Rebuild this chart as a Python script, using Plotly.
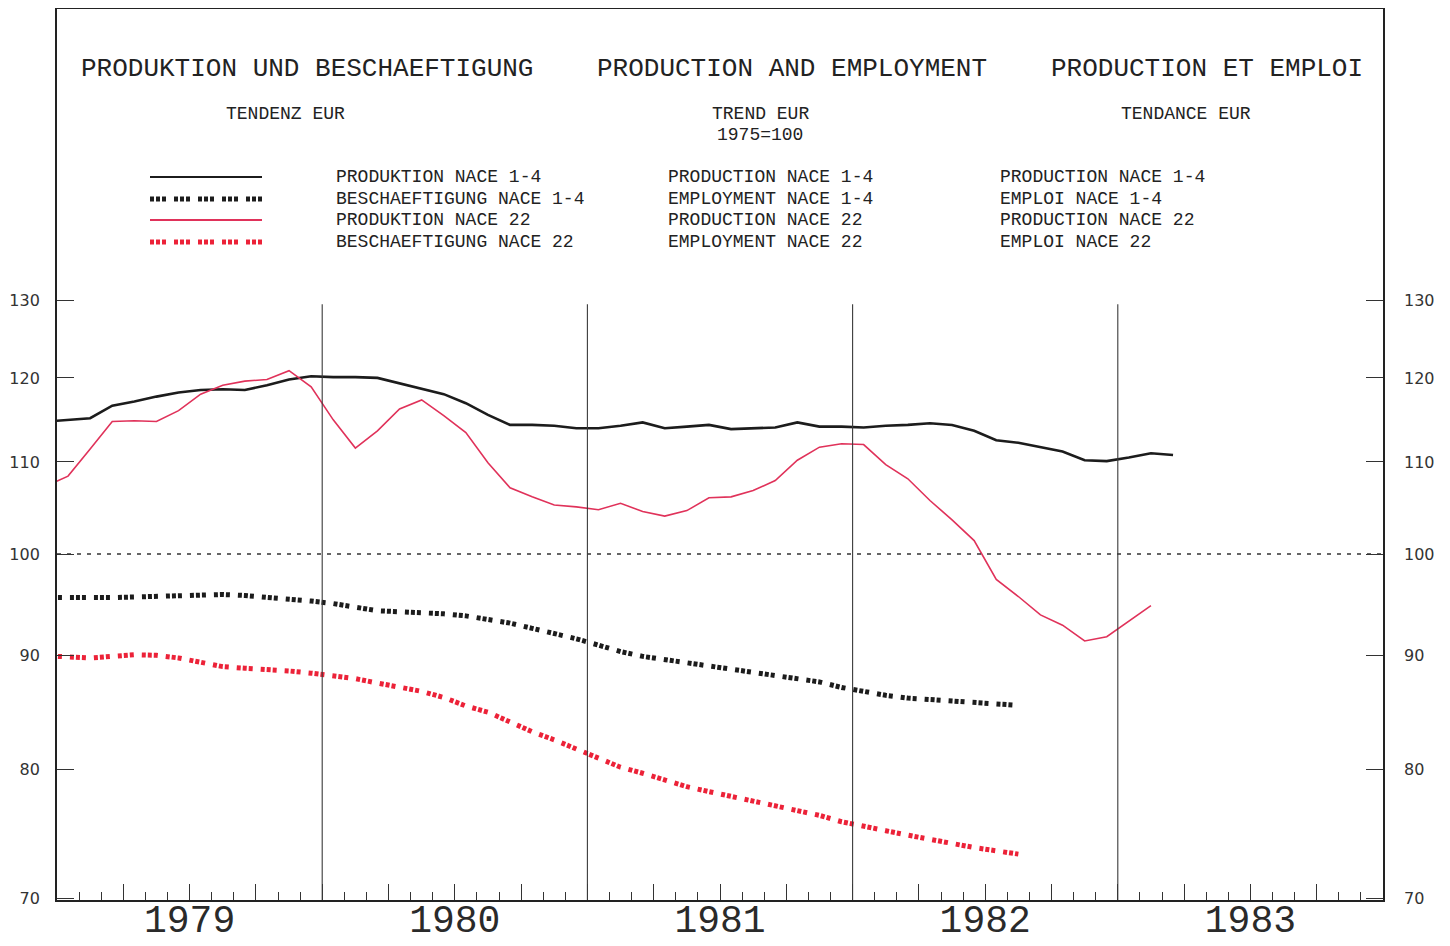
import math
import pandas as pd
import plotly.graph_objects as go

# ---------------- data (monthly trend indices, 1975 = 100) ----------------
periods = pd.period_range("1978-12", periods=52, freq="M")

prod_nace14 = [114.7, 114.9, 115.1, 116.6, 117.1, 117.7, 118.2, 118.5, 118.6, 118.5,
               119.1, 119.8, 120.2, 120.1, 120.1, 120.0, 119.3, 118.6, 118.0, 116.9,
               115.5, 114.3, 114.3, 114.2, 113.9, 113.9, 114.2, 114.6, 113.9, 114.1,
               114.3, 113.8, 113.9, 114.0, 114.6, 114.1, 114.1, 114.0, 114.2, 114.3,
               114.5, 114.3, 113.6, 112.5, 112.2, 111.7, 111.2, 110.2, 110.1, 110.5,
               111.0, 110.8]
prod_nace22 = [107.3, 108.4, 111.5, 114.7, 114.8, 114.7, 116.0, 118.0, 119.1, 119.6,
               119.8, 120.9, 118.9, 114.9, 111.6, 113.6, 116.2, 117.3, 115.4, 113.4,
               109.9, 107.1, 106.1, 105.2, 105.0, 104.7, 105.4, 104.5, 104.0, 104.6,
               106.0, 106.1, 106.8, 107.9, 110.2, 111.7, 112.1, 112.0, 109.7, 108.1,
               105.7, 103.6, 101.4, 97.4, 95.7, 93.9, 92.9, 91.4, 91.8, 93.3, 94.8]
emp_nace14 = [95.6, 95.6, 95.5, 95.6, 95.65, 95.7, 95.7, 95.8, 95.9, 95.8,
              95.65, 95.5, 95.25, 95.0, 94.6, 94.3, 94.2, 94.15, 94.0, 93.8,
              93.45, 93.1, 92.6, 92.15, 91.6, 91.0, 90.4, 89.95, 89.65, 89.35,
              89.05, 88.8, 88.55, 88.2, 87.95, 87.6, 87.1, 86.7, 86.4, 86.15,
              86.0, 85.85, 85.75, 85.6, 85.5]
emp_nace22 = [90.0, 89.95, 89.8, 89.95, 90.1, 90.05, 89.8, 89.4, 89.0, 88.85,
              88.75, 88.6, 88.4, 88.15, 87.9, 87.5, 87.1, 86.75, 86.2, 85.45,
              84.9, 84.0, 83.2, 82.5, 81.7, 80.9, 80.2, 79.7, 79.1, 78.6,
              78.2, 77.8, 77.4, 77.0, 76.7, 76.3, 75.8, 75.4, 75.1, 74.75,
              74.4, 74.05, 73.8, 73.55, 73.3]

years = [1979, 1980, 1981, 1982, 1983]
year_labels = ["1979", "1980", "1981", "1982", "1983"]
y_ticks = [70, 80, 90, 100, 110, 120, 130]
y_ticklabels = ["70", "80", "90", "100", "110", "120", "130"]

legend_de = ["PRODUKTION NACE 1-4", "BESCHAEFTIGUNG NACE 1-4",
             "PRODUKTION NACE 22", "BESCHAEFTIGUNG NACE 22"]
legend_en = ["PRODUCTION NACE 1-4", "EMPLOYMENT NACE 1-4",
             "PRODUCTION NACE 22", "EMPLOYMENT NACE 22"]
legend_fr = ["PRODUCTION NACE 1-4", "EMPLOI NACE 1-4",
             "PRODUCTION NACE 22", "EMPLOI NACE 22"]

# ---------------- geometry / style ----------------
W, H = 1450, 946
OFF = 8                       # page body margin of the browser
SL, SR, ST, SB = 57, 1383, 9, 900   # plot frame in screen pixels
L, R, T, B = SL - OFF, SR - OFF, ST - OFF, SB - OFF
Y_MIN, Y_MAX = 69.9, 175.8

def px(x):
    return (x - SL) / (SR - SL)

def py(y):
    return (SB - y) / (SB - ST)

x_all = [p.year + (p.month - 0.5) / 12 for p in periods]

BLACK = "#1c1c1c"
RED_LINE = "#e0325a"
RED_DASH = "#ec2238"
DASH = "4px,2px,4px,2px,4px,8px"
MONO = "Liberation Mono"

series = [
    (prod_nace14, dict(color=BLACK, width=2.6)),
    (emp_nace14, dict(color=BLACK, width=5, dash=DASH)),
    (prod_nace22, dict(color=RED_LINE, width=1.6)),
    (emp_nace22, dict(color=RED_DASH, width=5, dash=DASH)),
]

fig = go.Figure()
for vals, ln in series:
    fig.add_trace(go.Scatter(x=x_all[:len(vals)], y=vals, mode="lines",
                             line=ln, showlegend=False, hoverinfo="skip"))

# invisible trace so the right-hand axis is drawn
fig.add_trace(go.Scatter(x=[x_all[0]], y=[prod_nace14[0]], yaxis="y2", mode="lines",
                         line=dict(width=0), showlegend=False, hoverinfo="skip"))

# ---------------- shapes ----------------
shapes = []
shapes.append(dict(type="line", xref="paper", yref="y", x0=0, x1=1, y0=100, y1=100,
                   line=dict(color="#333", width=1.4, dash="4px,6px")))
for yr in years[1:]:
    shapes.append(dict(type="line", xref="x", yref="y", x0=yr, x1=yr, y0=Y_MIN, y1=129.5,
                       line=dict(color="#3a3a3a", width=1.1)))
leg_rows = [177, 199, 220, 242]
for (vals, ln), ry in zip(series, leg_rows):
    shapes.append(dict(type="line", xref="paper", yref="paper",
                       x0=px(150), x1=px(262), y0=py(ry), y1=py(ry),
                       line=dict(color=ln["color"], width=5 if "dash" in ln else 1.8,
                                 dash=ln.get("dash", "solid"))))

# ---------------- annotations ----------------
ann = []
def text(x, y, s, size, anchor="center", fam=MONO, color="#222"):
    ann.append(dict(x=px(x), y=py(y), xref="paper", yref="paper", text=s, showarrow=False,
                    xanchor=anchor, yanchor="middle",
                    font=dict(family=fam, size=size, color=color)))

text(307, 69, "PRODUKTION UND BESCHAEFTIGUNG", 26)
text(792, 69, "PRODUCTION AND EMPLOYMENT", 26)
text(1207, 69, "PRODUCTION ET EMPLOI", 26)
text(285, 114, "TENDENZ EUR", 18)
text(760, 114, "TREND EUR", 18)
text(760, 135, "1975=100", 18)
text(1186, 114, "TENDANCE EUR", 18)
for col_x, col in zip([334, 666, 998], [legend_de, legend_en, legend_fr]):
    for ry, s in zip(leg_rows, col):
        text(col_x, ry, s, 18, anchor="left")

fig.update_layout(annotations=ann, shapes=shapes)

# ---------------- axes ----------------
quarters = [years[0] + q / 4 for q in range(1, 4 * len(years))]
q_text = []
for q in quarters:
    lab = ""
    for yr, yl in zip(years, year_labels):
        if abs(q - (yr + 0.5)) < 1e-9:
            lab = yl
    q_text.append(lab)

yrange = [math.log10(Y_MIN), math.log10(Y_MAX)]

fig.update_layout(
    width=W, height=H, autosize=False,
    margin=dict(l=L, r=W - R, t=T, b=H - B, pad=0, autoexpand=False),
    paper_bgcolor="white", plot_bgcolor="white",
    showlegend=False,
    xaxis=dict(range=[years[0], years[-1] + 1], tickmode="array", tickvals=quarters,
               ticktext=q_text, ticks="inside", ticklen=16, tickwidth=1.2, tickcolor="#333",
               showline=True, linecolor="#222", linewidth=1.8, mirror=True,
               showgrid=False, zeroline=False, ticklabelstandoff=-16, automargin=False,
               tickfont=dict(family=MONO, size=38, color="#2a2a2a"),
               minor=dict(dtick=1 / 12, tick0=years[0], ticks="inside", ticklen=8,
                          tickwidth=1.2, tickcolor="#333", showgrid=False)),
    yaxis=dict(type="log", range=yrange, tickmode="array", tickvals=y_ticks,
               ticktext=y_ticklabels, ticks="inside", ticklen=17, tickwidth=1.2,
               tickcolor="#333", showline=True, linecolor="#222", linewidth=1.8,
               mirror="ticks", showgrid=False, zeroline=False, ticklabelstandoff=12,
               automargin=False,
               tickfont=dict(family="DejaVu Sans", size=16, color="#333")),
    yaxis2=dict(type="log", range=yrange, overlaying="y", side="right", tickmode="array",
                tickvals=y_ticks, ticktext=y_ticklabels, ticks="", showline=False,
                showgrid=False, zeroline=False, ticklabelstandoff=20, automargin=False,
                tickfont=dict(family="DejaVu Sans", size=16, color="#333")),
)

fig.write_html("out.html")
